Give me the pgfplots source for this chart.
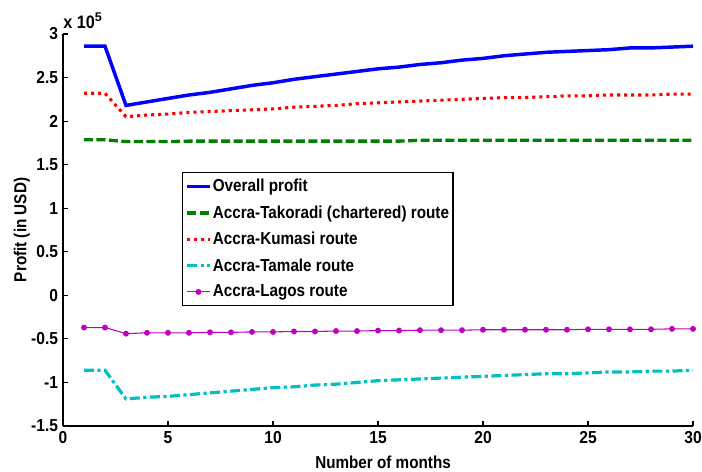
\documentclass[border=0pt]{standalone}
\usepackage{pgfplots}
\pgfplotsset{compat=1.18}
\usepackage{fontspec}
\setmainfont{Liberation Sans}
\newfontfamily\narrow[FakeStretch=0.88]{Liberation Sans}
\newfontfamily\ticknarrow[FakeStretch=0.9]{Liberation Sans}
\definecolor{mblue}{RGB}{0,0,255}
\definecolor{mgreen}{RGB}{0,128,0}
\definecolor{mred}{RGB}{255,0,0}
\definecolor{mcyan}{RGB}{0,191,191}
\definecolor{mmag}{RGB}{191,0,191}
\begin{document}
\begin{tikzpicture}
\begin{axis}[
  scale only axis,
  width=472.5pt, height=294pt,
  xmin=0, xmax=30, ymin=-1.5, ymax=3,
  axis x line*=bottom, axis y line*=left,
  axis line style={line width=0.9pt},
  xtick={0,5,10,15,20,25,30},
  ytick={-1.5,-1,-0.5,0,0.5,1,1.5,2,2.5,3},
  yticklabels={-1.5,-1,-0.5,0,0.5,1,1.5,2,2.5,3},
  tick align=inside, major tick length=3.75pt,
  tick style={line width=0.9pt, black},
  /pgf/number format/assume math mode=true,
  tick label style={font=\fontsize{13}{14}\ticknarrow\bfseries},
  xticklabel style={inner sep=2pt, yshift=-2pt},
  yticklabel style={inner sep=2pt, xshift=-1.5pt},
  xlabel={Number of months}, ylabel={Profit (in USD)},
  label style={font=\fontsize{13}{15}\narrow\bfseries},
  xlabel style={at={(axis description cs:0.508,0)}, anchor=center, yshift=-27pt},
  ylabel style={at={(axis description cs:0,0.5)}, anchor=center, yshift=30.75pt},
  legend style={at={(0.189,0.648)}, anchor=north west,
    font=\fontsize{13}{15}\narrow\bfseries, draw=black, line width=0.9pt,
    row sep=4.9pt, inner xsep=2pt, inner ysep=3pt,
    nodes={inner xsep=1pt},
    /tikz/every odd column/.append style={column sep=0pt},
    /tikz/every even column/.append style={column sep=0pt}},
  legend image code/.code={\draw[mark repeat=2, mark phase=2, #1] plot coordinates {(0pt,0pt) (8.5pt,0pt) (17pt,0pt)};},
  legend cell align=left,
  clip=false,
]
\addplot[mblue, line width=2.6pt] coordinates {
(1,2.86)(2,2.86)(3,2.18)(4,2.22)(5,2.26)(6,2.30)(7,2.33)(8,2.37)(9,2.41)(10,2.44)
(11,2.48)(12,2.51)(13,2.54)(14,2.57)(15,2.60)(16,2.62)(17,2.65)(18,2.67)(19,2.70)(20,2.72)
(21,2.75)(22,2.77)(23,2.79)(24,2.80)(25,2.81)(26,2.82)(27,2.84)(28,2.84)(29,2.85)(30,2.86)};
\addlegendentry{Overall profit}
\addplot[mgreen, line width=2.5pt, dash pattern=on 6.75pt off 2.6pt] coordinates {
(1,1.785)(2,1.785)(3,1.765)(4,1.765)(5,1.765)(6,1.77)(7,1.77)(8,1.77)(9,1.77)(10,1.77)
(11,1.77)(12,1.77)(13,1.77)(14,1.77)(15,1.77)(16,1.77)(17,1.78)(18,1.78)(19,1.78)(20,1.78)
(21,1.78)(22,1.78)(23,1.78)(24,1.78)(25,1.78)(26,1.78)(27,1.78)(28,1.78)(29,1.78)(30,1.78)};
\addlegendentry{Accra-Takoradi (chartered) route}
\addplot[mred, line width=2.3pt, dash pattern=on 2.3pt off 3pt] coordinates {
(1,2.32)(2,2.32)(3,2.05)(4,2.07)(5,2.08)(6,2.10)(7,2.11)(8,2.12)(9,2.13)(10,2.14)
(11,2.16)(12,2.17)(13,2.18)(14,2.20)(15,2.21)(16,2.22)(17,2.23)(18,2.24)(19,2.25)(20,2.26)
(21,2.27)(22,2.27)(23,2.28)(24,2.29)(25,2.29)(26,2.30)(27,2.30)(28,2.30)(29,2.31)(30,2.31)};
\addlegendentry{Accra-Kumasi route}
\addplot[mcyan, line width=2.4pt, dash pattern=on 7.5pt off 2.6pt on 2.4pt off 2.6pt] coordinates {
(1,-0.86)(2,-0.86)(3,-1.19)(4,-1.17)(5,-1.16)(6,-1.14)(7,-1.12)(8,-1.10)(9,-1.08)(10,-1.06)
(11,-1.05)(12,-1.03)(13,-1.02)(14,-1.00)(15,-0.98)(16,-0.97)(17,-0.96)(18,-0.95)(19,-0.94)(20,-0.93)
(21,-0.92)(22,-0.91)(23,-0.90)(24,-0.90)(25,-0.89)(26,-0.88)(27,-0.88)(28,-0.87)(29,-0.87)(30,-0.86)};
\addlegendentry{Accra-Tamale route}
\addplot[mmag, line width=0.8pt, mark=*, mark size=1.8pt, mark options={solid, fill=mmag}] coordinates {
(1,-0.37)(2,-0.37)(3,-0.44)(4,-0.43)(5,-0.43)(6,-0.43)(7,-0.425)(8,-0.425)(9,-0.42)(10,-0.42)
(11,-0.415)(12,-0.415)(13,-0.41)(14,-0.41)(15,-0.405)(16,-0.405)(17,-0.40)(18,-0.40)(19,-0.40)(20,-0.395)
(21,-0.395)(22,-0.395)(23,-0.395)(24,-0.395)(25,-0.39)(26,-0.39)(27,-0.39)(28,-0.39)(29,-0.385)(30,-0.385)};
\addlegendentry{Accra-Lagos route}
\node[anchor=base west, font=\fontsize{13.5}{15}\ticknarrow\bfseries, inner sep=0pt] at (rel axis cs:0,1) [yshift=4pt, xshift=0pt] {x 10$^{\mathbf{5}}$};
\coordinate (bl) at (rel axis cs:0,0);
\coordinate (tr) at (rel axis cs:1,1);
\end{axis}
\pgfresetboundingbox
\useasboundingbox ([shift={(-47.25pt,-34.5pt)}]bl) rectangle ([shift={(6.75pt,25.5pt)}]tr);
\end{tikzpicture}
\end{document}
